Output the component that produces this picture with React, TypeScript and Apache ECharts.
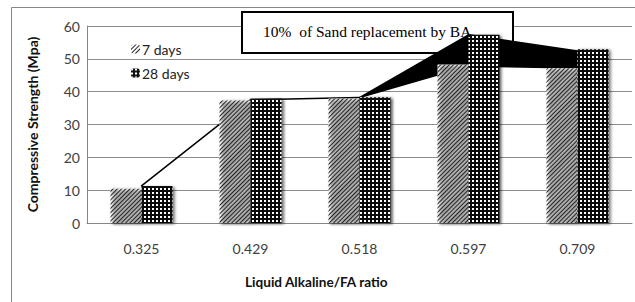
import React, { useEffect, useRef } from "react";
import * as echarts from "echarts";

const categories = ["0.325", "0.429", "0.518", "0.597", "0.709"];
const days7 = [10.4, 37.3, 37.9, 48.3, 47.1];
const days28 = [11.3, 37.9, 38.3, 57.3, 52.9];
const trendUpper = [11.3, 37.5, 38.2, 57.3, 52.4];
const trendLower = [11.3, 37.5, 38.2, 47.8, 47.2];
const yTicks = [0, 10, 20, 30, 40, 50, 60];
const boxText = "10%  of Sand replacement by BA";

export default function App() {
  const ref = useRef<HTMLDivElement>(null);
  useEffect(() => {
    if (!ref.current) return;
    const chart = echarts.init(ref.current, null, { renderer: "svg" });
    const segs = [];
    for (let i = 0; i < categories.length - 1; i++) {
      segs.push([i, trendLower[i], trendUpper[i], trendLower[i + 1], trendUpper[i + 1]]);
    }
    const shadow = {
      shadowBlur: 3,
      shadowColor: "rgba(0,0,0,0.45)",
      shadowOffsetX: 2,
      shadowOffsetY: 1,
    };
    chart.setOption({
      animation: false,
      backgroundColor: "#ffffff",
      textStyle: { fontFamily: "Lato" },
      grid: { left: 87, right: 3, top: 26, bottom: 79, containLabel: false },
      legend: {
        orient: "vertical",
        left: 126,
        top: 37,
        itemWidth: 9,
        itemHeight: 9,
        itemGap: 10,
        data: ["7 days", "28 days"],
        textStyle: { fontFamily: "Lato", fontSize: 14, color: "#222", padding: [0, 0, 0, -3] },
      },
      xAxis: {
        type: "category",
        data: categories,
        axisLine: { lineStyle: { color: "#868686" } },
        axisTick: { show: false },
        axisLabel: { margin: 18, fontSize: 14, color: "#404040", fontFamily: "Lato" },
      },
      yAxis: {
        type: "value",
        min: yTicks[0],
        max: yTicks[yTicks.length - 1],
        interval: 10,
        name: "Compressive Strength (Mpa)",
        nameLocation: "middle",
        nameGap: 48,
        nameTextStyle: { fontSize: 14, fontWeight: "bold", color: "#111", fontFamily: "Lato" },
        axisLine: { show: true, lineStyle: { color: "#868686" } },
        axisTick: { show: false },
        axisLabel: { margin: 7, fontSize: 14, color: "#404040", fontFamily: "Lato" },
        splitLine: { lineStyle: { color: "#8c8c8c" } },
      },
      graphic: [
        {
          type: "rect",
          z: -10,
          silent: true,
          shape: { x: 11.5, y: 7.5, width: 700, height: 400 },
          style: { fill: "none", stroke: "#868686", lineWidth: 1 },
        },
        {
          type: "rect",
          z: 1,
          silent: true,
          shape: { x: 242, y: 12, width: 271, height: 41 },
          style: { fill: "#ffffff", stroke: "#000", lineWidth: 2 },
        },
        {
          type: "text",
          z: 100,
          silent: true,
          left: 263,
          top: 23,
          style: {
            text: boxText,
            fontFamily: "Liberation Serif",
            fontSize: 15.5,
            fill: "#000",
          },
        },
        {
          type: "text",
          z: 100,
          silent: true,
          left: 245,
          top: 275,
          style: {
            text: "Liquid Alkaline/FA ratio",
            fontFamily: "Lato",
            fontSize: 13.6,
            fontWeight: "bold",
            fill: "#111",
          },
        },
      ],
      series: [
        {
          type: "custom",
          name: "trend",
          z: 2,
          data: segs,
          renderItem: (params: any, api: any) => {
            const i = api.value(0);
            const p1 = api.coord([i, api.value(1)]);
            const p2 = api.coord([i + 1, api.value(3)]);
            const p3 = api.coord([i + 1, api.value(4)]);
            const p4 = api.coord([i, api.value(2)]);
            return {
              type: "polygon",
              shape: { points: [p1, p2, p3, p4] },
              style: { fill: "#000", stroke: "#000", lineWidth: 1.5, lineJoin: "round" },
            };
          },
        },
        {
          type: "bar",
          name: "7 days",
          z: 5,
          data: days7,
          barWidth: 31,
          barGap: "0%",
          itemStyle: {
            color: "#ffffff",
            ...shadow,
            decal: {
              symbol: "rect",
              symbolSize: 1,
              color: "#222",
              backgroundColor: "#ffffff",
              dashArrayX: [1, 0],
              dashArrayY: [1, 2],
              rotation: -Math.PI / 4,
            },
          },
        },
        {
          type: "bar",
          name: "28 days",
          z: 5,
          data: days28,
          barWidth: 31,
          barGap: "0%",
          itemStyle: {
            color: "#111111",
            ...shadow,
            decal: {
              symbol: "rect",
              symbolSize: 1,
              color: "#ffffff",
              backgroundColor: "#111111",
              dashArrayX: [1.6, 1.4],
              dashArrayY: [1.6, 1.4],
              rotation: 0,
            },
          },
        },
      ],
    });
    return () => chart.dispose();
  }, []);
  return (
    <div
      ref={ref}
      style={{ position: "absolute", left: 0, top: 0, width: 635, height: 302 }}
    />
  );
}
